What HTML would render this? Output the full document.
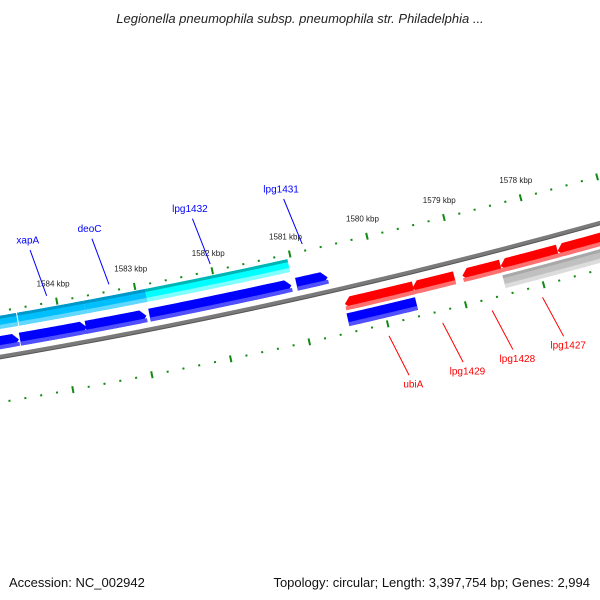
<!DOCTYPE html>
<html><head><meta charset="utf-8"><style>
body{margin:0;background:#fff;}
svg{display:block;font-family:"Liberation Sans",sans-serif;}
</style></head><body>
<svg id="map" width="600" height="600" viewBox="0 0 600 600" xmlns="http://www.w3.org/2000/svg">
<rect x="0" y="0" width="600" height="600" fill="#fff"/>
<text x="300" y="23" text-anchor="middle" font-size="13" font-style="italic" fill="#222">Legionella pneumophila subsp. pneumophila str. Philadelphia ...</text>
<text x="9" y="587" font-size="13" fill="#111">Accession: NC_002942</text>
<text x="590" y="587" text-anchor="end" font-size="13" fill="#111">Topology: circular; Length: 3,397,754 bp; Genes: 2,994</text>
<g id="layer"></g>
</svg>
<script>
// ---- data (bp) ----
const fwdStarts = [1585300, 1584540, 1583700, 1582886, 1581000];
const fwdEnds   = [1584553, 1583687, 1582925, 1581065, 1580600];
const cdsStarts = [1585300, 1584519, 1583667, 1582879];
const cdsEnds   = [1584533, 1583667, 1582879, 1581044];
const cdsColors = ["#00bfff", "#00bfff", "#00bfff", "#00ffff"];
const revStarts = [1580463, 1579597, 1578953, 1578460, 1577724];
const revEnds   = [1579584, 1579054, 1578460, 1577724, 1576400];
const innerStarts = [1580470, 1578468];
const innerEnds   = [1579592, 1576400];
const innerColors = ["#0000ff", "#c0c0c0"];
const fwdLabels = ["xapA", "deoC", "lpg1432", "lpg1431"];
const fwdLabelBp = [1584114, 1583313, 1582008, 1580819];
const revLabels = ["ubiA", "lpg1429", "lpg1428", "lpg1427"];
const revLabelBp = [1580018, 1579333, 1578700, 1578054];
const tickLabels = ["1578 kbp","1579 kbp","1580 kbp","1581 kbp","1582 kbp","1583 kbp","1584 kbp"];
const tickLabelBp = [1578000,1579000,1580000,1581000,1582000,1583000,1584000];

// ---- geometry ----
const cx=-1018, cy=-5612, k=1.3183e-5, th0=1.35145, bp0=1581000;
const R_OUT=6010, R_CDS=6021, R_FWD=6041, R_BB=6055, R_REV=6071, R_IN=6087, R_IN_T=6100;
const NS="http://www.w3.org/2000/svg";
const layer=document.getElementById('layer');
function ang(bp){return th0+(bp-bp0)*k;}
function P(r,t){return [cx+r*Math.cos(t), cy+r*Math.sin(t)];}
function mk(tag,attrs){const e=document.createElementNS(NS,tag);for(const a in attrs)e.setAttribute(a,attrs[a]);layer.appendChild(e);return e;}
function arcPts(r,t1,t2){const n=24,pts=[];for(let i=0;i<=n;i++){pts.push(P(r,t1+(t2-t1)*i/n));}return pts;}
function shape(r,h,bpA,bpB,dir,head){
  let t1=ang(bpA), t2=ang(bpB); // t1 left (larger), t2 right
  const ha=head/r;
  let b1=t1,b2=t2;
  if(dir==='R') b2=t2+ha;
  if(dir==='L') b1=t1-ha;
  let pts=arcPts(r-h/2,b1,b2);
  if(dir==='R') pts.push(P(r,t2));
  pts=pts.concat(arcPts(r+h/2,b2,b1));
  if(dir==='L') pts.push(P(r,t1));
  return 'M'+pts.map(p=>p[0].toFixed(2)+','+p[1].toFixed(2)).join('L')+'Z';
}

// backbone
let bb=arcPts(R_BB,1.42,1.28);
let e=mk('path',{d:'M'+bb.map(p=>p.join(',')).join('L'),fill:'none',stroke:'#7a7a7a','stroke-width':4});


let bb2=arcPts(R_BB+2,1.42,1.28);
e=mk('path',{d:'M'+bb2.map(p=>p.join(',')).join('L'),fill:'none',stroke:'#555','stroke-width':1});



// ticks
function ticks(r,name){
  for(let bp=1575000; bp<=1586000; bp+=200){
    const t=ang(bp); const major=bp%1000===0;
    const a=P(r-(major?3.5:1),t), b=P(r+(major?3.5:1),t);
    const l=mk('line',{x1:a[0],y1:a[1],x2:b[0],y2:b[1],stroke:'#108a10','stroke-width':2});
    
    
  }
}
ticks(R_OUT,'outer-ruler');
ticks(R_IN_T,'inner-ruler');
tickLabels.forEach((s,i)=>{
  const p=P(R_OUT-15,ang(tickLabelBp[i]));
  const t=mk('text',{x:p[0]-1,y:p[1],'text-anchor':'middle','font-size':8,fill:'#222'});
  t.textContent=s;
  
  
});

// features
function feature(r,bpA,bpB,dir,col,top,bot,name){
  const h=13;
  let s=mk('path',{d:shape(r,h,bpA,bpB,dir,6),fill:col});
  
  
  let s2=mk('path',{d:shape(r+h/2-2,4,bpA,bpB,'N',0),fill:bot});
  
  
  if(top){let s3=mk('path',{d:shape(r-h/2+1.5,3,bpA,bpB,'N',0),fill:top});
  
  }
}
cdsStarts.forEach((s,i)=>feature(R_CDS,s,cdsEnds[i],'N',cdsColors[i],i===3?'#00b4b4':'#0098c8',i===3?'#80ffff':'#60d8ff','cds-feature'));
fwdStarts.forEach((s,i)=>feature(R_FWD,s,fwdEnds[i],'R','#0000ff',null,'#5050ff','forward-gene'));
revStarts.forEach((s,i)=>feature(R_REV,s,revEnds[i],'L','#ff0000',null,'#ff7070','reverse-gene'));
innerStarts.forEach((s,i)=>feature(R_IN,s,innerEnds[i],'N',innerColors[i],i?'#a8a8a8':null,i?'#dcdcdc':'#5050ff','inner-feature'));

// gene labels
fwdLabels.forEach((s,i)=>{
  const t=ang(fwdLabelBp[i]);
  const a=P(R_OUT-7,t), b=P(R_OUT-55,t+0.00137), c=P(R_OUT-62,t+0.00155);
  let l=mk('line',{x1:a[0],y1:a[1],x2:b[0],y2:b[1],stroke:'#0000ff','stroke-width':1});
  
  
  let tx=mk('text',{x:c[0],y:c[1],'text-anchor':'middle','font-size':10,fill:'#0000ff'});
  tx.textContent=s;
  
  
});
revLabels.forEach((s,i)=>{
  const t=ang(revLabelBp[i]);
  const a=P(R_IN_T+12,t), b=P(R_IN_T+55,t-0.0017), c=P(R_IN_T+68,t-0.0019);
  let l=mk('line',{x1:a[0],y1:a[1],x2:b[0],y2:b[1],stroke:'#ff0000','stroke-width':1});
  
  
  let tx=mk('text',{x:c[0],y:c[1],'text-anchor':'middle','font-size':10,fill:'#ff0000'});
  tx.textContent=s;
  
  
});
</script>
</body></html>
